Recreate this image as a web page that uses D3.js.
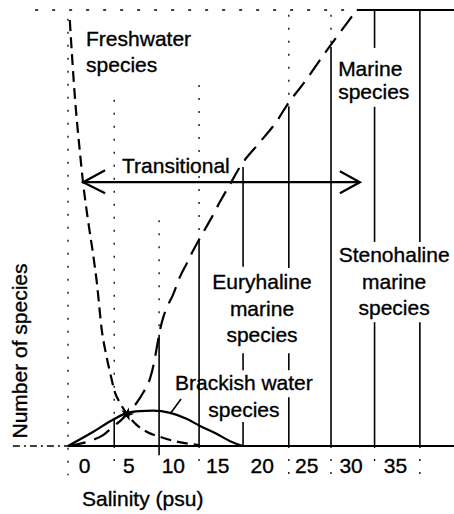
<!DOCTYPE html>
<html>
<head>
<meta charset="utf-8">
<script src="https://cdn.jsdelivr.net/npm/d3@7"></script>
<style>
  html, body { margin: 0; padding: 0; background: #fff; }
  svg { display: block; }
  text { font-family: "Liberation Sans", Arial, Helvetica, sans-serif; fill: #000; stroke: #000; stroke-width: 0.35px; }
</style>
</head>
<body>
<svg id="chart" width="454" height="514"></svg>
<script>
// ---------------- DATA ----------------
const salinityTicks = [0, 5, 10, 15, 20, 25, 30, 35];

// [salinity (psu), relative number of species]
const freshwaterSpecies = [
  [-1.6, 97.7], [-1.0, 79.4], [-0.45, 67.2], [-0.1, 60.3], [0.45, 51.8],
  [1.0, 44.3], [1.45, 37.4], [2.0, 26.6], [2.5, 20.9], [2.95, 16.7],
  [3.5, 12.2], [4.05, 9.9], [4.85, 7.3], [5.95, 4.8], [7.1, 3.2],
  [8.55, 2.1], [10.25, 1.1], [12.95, 0.2]
];
const marineSpecies = [
  [-1.8, 0], [1.0, 1.4], [2.15, 2.5], [3.25, 4.4], [4.05, 5.7], [4.85, 7.3],
  [5.75, 9.4], [6.65, 12.2], [7.45, 15.6], [7.9, 19.3], [8.2, 22.7],
  [8.55, 26.6], [8.9, 29.4], [9.35, 31.9], [10.0, 34.6], [10.8, 38.8],
  [11.6, 42.0], [12.15, 44.3], [13.05, 47.7], [14.2, 51.8], [15.3, 56.0],
  [16.45, 60.1], [17.55, 64.0], [19.8, 69.7], [21.7, 74.5], [22.85, 78.2],
  [24.75, 83.3], [25.9, 86.6], [27.35, 90.8], [28.5, 94.0], [30.7, 100]
];
const brackishSpecies = [
  [-1.8, 0], [1.0, 3.2], [3.25, 6.0], [4.85, 7.6], [6.3, 8.0], [7.75, 8.1],
  [9.7, 7.6], [11.6, 6.2], [13.05, 4.6], [14.75, 3.0], [16.45, 1.1], [17.9, 0]
];
const crossingPoint = [4.85, 7.3];

// salinity boundaries drawn as vertical dividers
const boundaries = [-1.8, 3.4, 8.45, 12.95, 17.9, 23.05, 27.8, 32.7, 37.8];
const transitionalRange = [-0.1, 31.05];
const transitionalLevel = 60.5;

// ---------------- LAYOUT ----------------
// divider segments [fromValue, toValue, kind] (kind: s = solid, d = dotted)
const dividerSegments = [
  [[98, -6.7, "d"]],
  [[79.4, 6.0, "d"], [6.0, 0, "s"], [0, -3.7, "d"]],
  [[51.8, 25.5, "d"], [25.5, -2.1, "s"]],
  [[82.8, 47.2, "d"], [47.2, 0, "s"], [0, -4.6, "d"]],
  [[64.0, 41.1, "s"], [21.3, 17.4, "s"], [5.5, 0, "s"]],
  [[98.9, 77.8, "d"], [77.8, 40.8, "s"], [21.3, 17.4, "s"], [11.2, 0, "s"], [0, -6.7, "d"]],
  [[98.9, 91.5, "d"], [91.5, 0, "s"], [0, -6.7, "d"]],
  [[100, 91.3, "s"], [77.8, 46.8, "s"], [28.4, 0, "s"], [0, -5.0, "d"]],
  [[100, 46.8, "s"], [28.4, 0, "s"], [0, -6.7, "d"]]
];

const labels = [
  { lines: ["Freshwater", "species"], s: 0.23, v: 91.7, anchor: "start", lh: 26 },
  { lines: ["Marine", "species"], s: 28.6, v: 84.9, anchor: "start", lh: 23 },
  { lines: ["Transitional"], s: 4.28, v: 62.6, anchor: "start", lh: 0 },
  { lines: ["Euryhaline", "marine", "species"], s: 20.03, v: 36.0, anchor: "middle", lh: 26.5 },
  { lines: ["Stenohaline", "marine", "species"], s: 34.9, v: 42.2, anchor: "middle", lh: 26.5 },
  { lines: ["Brackish water", "species"], s: 18.0, v: 12.85, anchor: "middle", lh: 27 }
];
const leader = [[10.92, 10.8], [9.7, 7.4]];

// ---------------- SCALES ----------------
const svg = d3.select("#chart");
const x = d3.scaleLinear().domain([0, 35]).range([84, 395]);
const y = d3.scaleLinear().domain([0, 100]).range([446, 10]);
const FS = 21;

// frame: top border
const topDotEnd = 30.7;
svg.append("line")
  .attr("x1", x(-5.5)).attr("x2", x(topDotEnd)).attr("y1", y(100)).attr("y2", y(100))
  .attr("stroke", "#000").attr("stroke-width", 1.5).attr("stroke-dasharray", "3,14");
svg.append("line")
  .attr("x1", x(topDotEnd)).attr("x2", x(41.7)).attr("y1", y(100)).attr("y2", y(100))
  .attr("stroke", "#000").attr("stroke-width", 2);

// dividers
const dg = svg.append("g");
boundaries.forEach((b, i) => {
  dividerSegments[i].forEach(seg => {
    dg.append("line")
      .attr("x1", x(b)).attr("x2", x(b))
      .attr("y1", y(seg[0])).attr("y2", y(seg[1]))
      .attr("stroke", "#000")
      .attr("stroke-width", seg[2] === "s" ? 1.6 : 1.3)
      .attr("stroke-dasharray", seg[2] === "s" ? null : "2,11");
  });
});

// x axis baseline
svg.append("line")
  .attr("x1", x(-1.8)).attr("x2", x(41.7)).attr("y1", y(0)).attr("y2", y(0))
  .attr("stroke", "#000").attr("stroke-width", 2);
svg.append("line")
  .attr("x1", x(-8)).attr("x2", x(-1.8)).attr("y1", y(0)).attr("y2", y(0))
  .attr("stroke", "#000").attr("stroke-width", 1.6).attr("stroke-dasharray", "7,4,2,4");

// tick labels
const axis = d3.axisBottom(x).tickValues(salinityTicks).tickSize(0).tickPadding(12).tickFormat(d3.format("d"));
const ag = svg.append("g").attr("transform", `translate(0,${y(0)})`).call(axis);
ag.select(".domain").remove();
ag.selectAll("text").attr("font-size", FS).attr("font-family", "Liberation Sans, Arial, sans-serif")
  .attr("fill", "#000").attr("stroke", "#000").attr("stroke-width", 0.35);

// curves
const line = d3.line().x(d => x(d[0])).y(d => y(d[1])).curve(d3.curveMonotoneX);
svg.append("path").datum(freshwaterSpecies).attr("d", line)
  .attr("fill", "none").attr("stroke", "#000").attr("stroke-width", 2.2).attr("stroke-dasharray", "11,6");
svg.append("path").datum(marineSpecies).attr("d", line)
  .attr("fill", "none").attr("stroke", "#000").attr("stroke-width", 2.2).attr("stroke-dasharray", "18,9");
svg.append("path").datum(brackishSpecies).attr("d", line)
  .attr("fill", "none").attr("stroke", "#000").attr("stroke-width", 2.2);

// crossing mark
svg.append("path")
  .attr("d", d3.symbol(d3.symbolStar, 55)())
  .attr("transform", `translate(${x(crossingPoint[0])},${y(crossingPoint[1])}) rotate(15)`)
  .attr("fill", "#000");

// leader for brackish label
svg.append("line")
  .attr("x1", x(leader[0][0])).attr("y1", y(leader[0][1]))
  .attr("x2", x(leader[1][0])).attr("y2", y(leader[1][1]))
  .attr("stroke", "#000").attr("stroke-width", 1.6);

// transitional double arrow
const ay = y(transitionalLevel);
const ax1 = x(transitionalRange[0]), ax2 = x(transitionalRange[1]);
const arrow = svg.append("g").attr("stroke", "#000").attr("stroke-width", 2.2).attr("fill", "none");
arrow.append("line").attr("x1", ax1).attr("x2", ax2).attr("y1", ay).attr("y2", ay);
arrow.append("path").attr("d", `M${ax1 + 22},${ay - 12} L${ax1},${ay} L${ax1 + 22},${ay + 11}`);
arrow.append("path").attr("d", `M${ax2 - 20},${ay - 11} L${ax2},${ay} L${ax2 - 20},${ay + 11}`);

// labels
labels.forEach(l => {
  const t = svg.append("text")
    .attr("x", x(l.s)).attr("y", y(l.v))
    .attr("text-anchor", l.anchor).attr("font-size", FS);
  l.lines.forEach((ln, i) => {
    t.append("tspan").attr("x", x(l.s)).attr("y", y(l.v) + i * l.lh).text(ln);
  });
});

// axis titles
svg.append("text").attr("x", 82).attr("y", 506).attr("font-size", FS).text("Salinity (psu)");
svg.append("text")
  .attr("transform", "translate(27,351) rotate(-90)")
  .attr("text-anchor", "middle").attr("font-size", FS)
  .text("Number of species");
</script>
</body>
</html>
